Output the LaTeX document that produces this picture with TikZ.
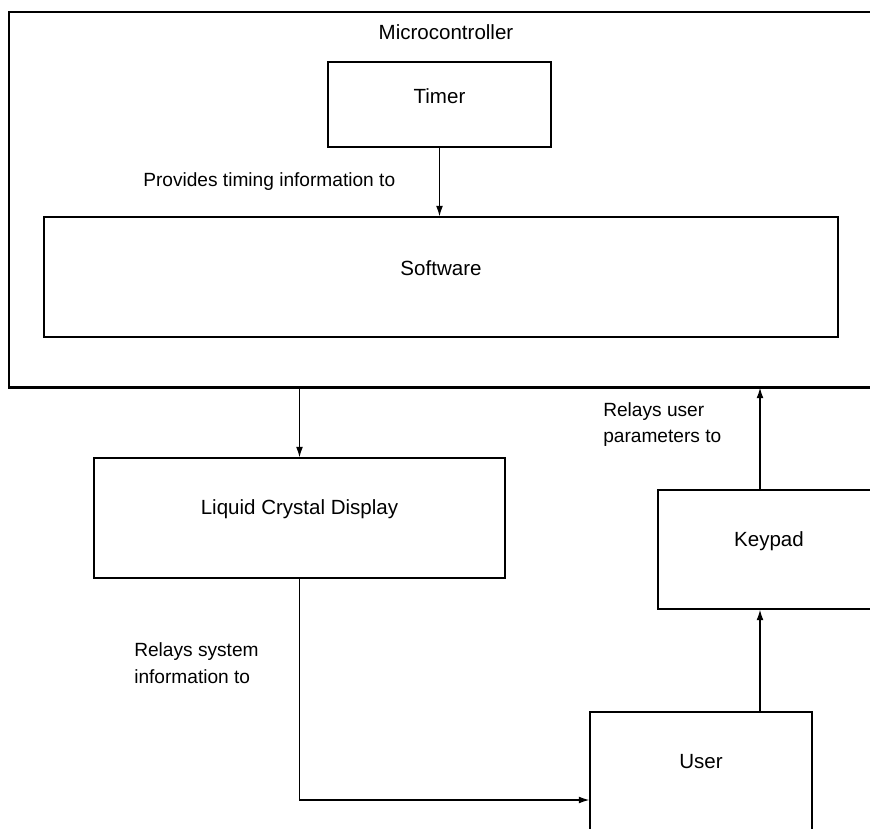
\documentclass[tikz,border=0pt]{standalone}
\usepackage{fontspec}
\setmainfont{Liberation Sans}
\usetikzlibrary{arrows.meta}

\newcommand{\lift}[1]{\raisebox{0.22cm}[\height][\depth]{#1}}

\tikzset{
  box/.style={draw, line width=0.9pt, inner sep=0pt},
  arr/.style={line width=0.9pt, -{Latex[length=2.6mm,width=1.7mm]}},
  txt/.style={font=\fontsize{14.6}{19}\selectfont, inner sep=0pt},
  note/.style={font=\fontsize{13.6}{19}\selectfont, inner sep=0pt, anchor=west, align=left}
}

\begin{document}
\begin{tikzpicture}[x=0.025cm, y=-0.025cm, every node/.style={txt}]
\useasboundingbox (0,0) rectangle (870,829);
\clip (0,0) rectangle (870,829);
\node[box, minimum width=21.775cm, minimum height=9.375cm] (mcu) at (444.5, 199.5){};
\node (mcutitle) at (446, 32){Microcontroller};
\node[box, minimum width=5.575cm, minimum height=2.125cm] (timer) at (439.5, 104.5){\lift{Timer}};
\node[box, minimum width=19.85cm, minimum height=3cm] (software) at (441, 277){\lift{Software}};
\node[box, minimum width=10.275cm, minimum height=3cm] (lcd) at (299.5, 518){\lift{Liquid Crystal Display}};
\node[box, minimum width=5.55cm, minimum height=2.975cm] (keypad) at (769, 549.5){\lift{Keypad}};
\node[box, minimum width=5.55cm, minimum height=4.4cm, label={[txt, yshift=-1.45cm]north:User}] (user) at (701, 800){};
\node[note] (timing) at (143, 182){Provides timing information to};
\node[note] (params) at (603, 424.5){Relays user\\parameters to};
\node[note] (sysinfo) at (134, 663.5){Relays system\\information to};
\coordinate (kx) at (760, 0);
\draw[line width=1.8pt] (mcu.south west) -- (mcu.south east);
\draw[arr] (timer.south) -- (timer.south |- software.north);
\draw[arr] (lcd.north |- mcu.south) -- (lcd.north);
\draw[arr] (lcd.south) |- (user.west);
\draw[arr] (kx |- user.north) -- (kx |- keypad.south);
\draw[arr] (kx |- keypad.north) -- (kx |- mcu.south);
\end{tikzpicture}
\end{document}
